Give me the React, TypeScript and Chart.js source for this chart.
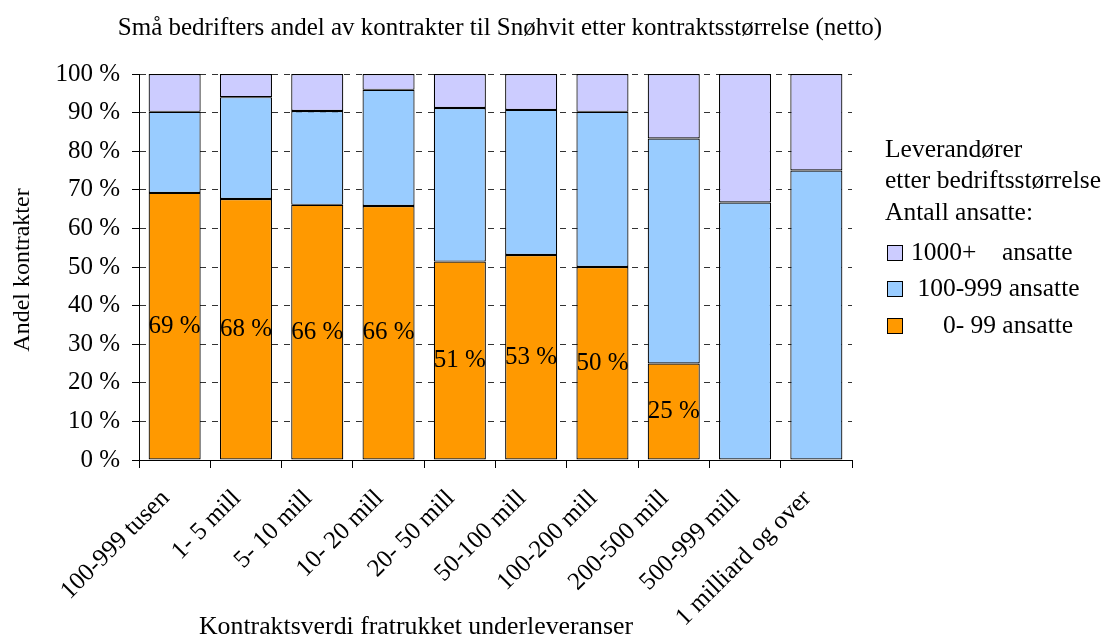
import React, { useEffect, useRef } from "react";
import { Chart, registerables } from "chart.js";

Chart.register(...registerables);

const chartTitle = "Små bedrifters andel av kontrakter til Snøhvit etter kontraktsstørrelse (netto)";
const yTitle = "Andel kontrakter";
const xTitle = "Kontraktsverdi fratrukket underleveranser";
const legendHeader = ["Leverandører", "etter bedriftsstørrelse", "Antall ansatte:"];

const categories = [
  "100-999 tusen",
  "1- 5 mill",
  "5- 10 mill",
  "10- 20 mill",
  "20- 50 mill",
  "50-100 mill",
  "100-200 mill",
  "200-500 mill",
  "500-999 mill",
  "1 milliard og over",
];
const small = [69.2, 67.6, 66.1, 65.8, 51.4, 53.1, 50.0, 25.0, 0, 0];
const medium = [21.0, 26.4, 24.3, 30.1, 39.8, 37.6, 40.2, 58.3, 66.7, 75.0];
const large = [9.8, 6.0, 9.6, 4.1, 8.8, 9.3, 9.8, 16.7, 33.3, 25.0];
const seriesLabels = ["     0- 99 ansatte", " 100-999 ansatte", "1000+    ansatte"];
const seriesColors = ["#FF9900", "#99CCFF", "#CCCCFF"];
const yTicks = [0, 10, 20, 30, 40, 50, 60, 70, 80, 90, 100];

const FONT = "'Liberation Serif', 'Times New Roman', serif";

const textPlugin = {
  id: "textPlugin",
  afterDraw(chart: any) {
    const ctx = chart.ctx;
    ctx.save();
    ctx.fillStyle = "#000";
    ctx.textBaseline = "middle";

    ctx.font = `25px ${FONT}`;
    ctx.textAlign = "center";
    ctx.fillText(chartTitle, 500, 28);

    ctx.font = `25.8px ${FONT}`;
    ctx.fillText(xTitle, 416, 627);

    ctx.font = `24px ${FONT}`;
    ctx.save();
    ctx.translate(23, 270);
    ctx.rotate(-Math.PI / 2);
    ctx.fillText(yTitle, 0, 0);
    ctx.restore();

    ctx.font = `25px ${FONT}`;
    const meta = chart.getDatasetMeta(0);
    ctx.textAlign = "center";
    meta.data.forEach((bar: any, i: number) => {
      const v = small[i];
      if (!v) return;
      const p = bar.getProps(["x", "y", "base"], true);
      ctx.fillText(`${Math.round(v)} %`, p.x, (p.y + p.base) / 2);
    });

    ctx.font = `25.5px ${FONT}`;
    ctx.textAlign = "left";
    const lx = 885;
    legendHeader.forEach((t, i) => {
      ctx.fillText(t, lx, 150 + i * 31.5);
    });
    const itemYs = [253, 289, 326];
    const order = [2, 1, 0];
    order.forEach((dsIndex, i) => {
      const y = itemYs[i];
      ctx.fillStyle = seriesColors[dsIndex];
      ctx.fillRect(887, y - 8, 16, 16);
      ctx.strokeStyle = "#000";
      ctx.lineWidth = 1;
      ctx.strokeRect(887.5, y - 7.5, 15, 15);
      ctx.fillStyle = "#000";
      ctx.fillText(chart.data.datasets[dsIndex].label, 911, y);
    });
    ctx.restore();
  },
};

export default function App() {
  const ref = useRef<HTMLCanvasElement | null>(null);
  useEffect(() => {
    if (!ref.current) return;
    const datasets = [small, medium, large].map((d, i) => ({
      label: seriesLabels[i],
      data: d,
      backgroundColor: seriesColors[i],
      borderColor: "#000",
      borderWidth: 1.2,
      borderSkipped: false as const,
      categoryPercentage: 1,
      barPercentage: 0.73,
    }));
    const chart = new Chart(ref.current, {
      type: "bar",
      data: { labels: categories, datasets },
      options: {
        animation: false,
        responsive: true,
        maintainAspectRatio: false,
        layout: { padding: { top: 74, right: 252, left: 0, bottom: 0 } },
        plugins: {
          legend: { display: false },
          title: { display: false },
          tooltip: { enabled: false },
        },
        scales: {
          x: {
            stacked: true,
            afterFit: (s: any) => {
              s.height = 179;
            },
            border: { display: true, color: "#000", width: 1 },
            grid: {
              drawOnChartArea: false,
              drawTicks: true,
              tickLength: 8,
              color: "#000",
              offset: true,
            },
            ticks: {
              color: "#000",
              font: { family: FONT, size: 25 },
              minRotation: 45,
              maxRotation: 45,
              autoSkip: false,
              padding: 16,
              labelOffset: -9,
            },
          },
          y: {
            stacked: true,
            min: 0,
            max: 100,
            afterFit: (s: any) => {
              s.width = 139;
            },
            afterBuildTicks: (s: any) => {
              s.ticks = yTicks.map((v) => ({ value: v }));
            },
            border: { display: true, color: "#000", width: 1, dash: [6, 6] },
            grid: {
              color: "#333",
              lineWidth: 1,
              drawTicks: true,
              tickLength: 7,
              tickColor: "#000",
              tickBorderDash: [],
            },
            ticks: {
              color: "#000",
              font: { family: FONT, size: 25 },
              padding: 12,
              callback: (v: any) => `${v} %`,
            },
          },
        },
      },
      plugins: [textPlugin],
    });
    return () => chart.destroy();
  }, []);

  return (
    <div style={{ position: "fixed", left: 0, top: 0, width: 1104, height: 639, background: "#fff" }}>
      <canvas ref={ref} />
    </div>
  );
}
